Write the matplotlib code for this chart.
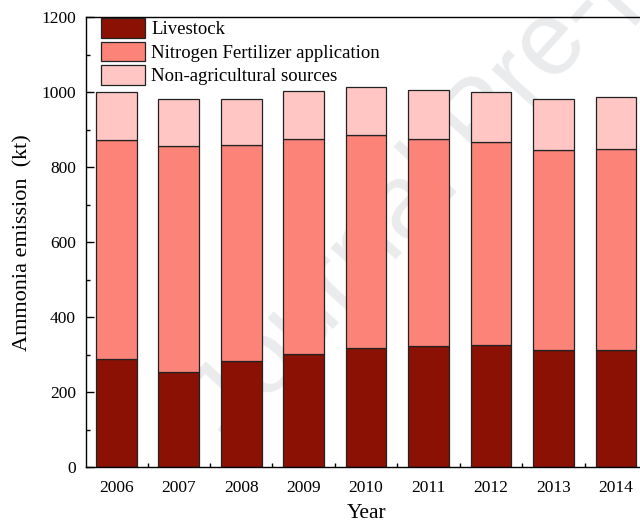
import numpy as np
import matplotlib
matplotlib.use("Agg")
import matplotlib.pyplot as plt
from matplotlib.ticker import MultipleLocator

# Ammonia emission by source (kt)
years = ["2006", "2007", "2008", "2009", "2010", "2011", "2012", "2013", "2014"]
livestock = [288, 254, 284, 302, 318, 323, 326, 314, 313]
nitrogen = [585, 601, 574, 572, 568, 551, 540, 532, 535]
non_agri = [128, 126, 124, 128, 127, 131, 134, 136, 138]

plt.rcParams['font.family'] = ['Liberation Serif', 'DejaVu Serif']

fig = plt.figure(figsize=(6.4, 5.29), dpi=100)
ax = fig.add_axes([0.134, 0.1163, 0.877, 0.8516])
ax.patch.set_facecolor('none')

x = np.arange(len(years))
w = 0.65
edge = dict(edgecolor='#222222', linewidth=0.9, zorder=2)

ax.bar(x, livestock, w, color='#8b1104', label='Livestock', **edge)
ax.bar(x, nitrogen, w, bottom=livestock, color='#fc8378',
       label='Nitrogen Fertilizer application', **edge)
bottom2 = np.array(livestock) + np.array(nitrogen)
ax.bar(x, non_agri, w, bottom=bottom2, color='#ffc6c4',
       label='Non-agricultural sources', **edge)

# faint diagonal watermark behind the bars
ax.text(0.755, 0.77, "Journal Pre-proof", transform=fig.transFigure,
        rotation=48, fontsize=76, color='#eaebed', family='Liberation Sans',
        ha='center', va='center', zorder=0.5, clip_on=False)

ax.set_xlim(-0.49, 8.5)
ax.set_ylim(0, 1200)
ax.set_xticks(x)
ax.set_xticklabels(years)
ax.set_xticks(x[:-1] + 0.5, minor=True)
ax.yaxis.set_major_locator(MultipleLocator(200))
ax.yaxis.set_minor_locator(MultipleLocator(100))

ax.tick_params(axis='both', which='major', direction='in', length=6,
               width=1.0, labelsize=12.5)
ax.tick_params(axis='both', which='minor', direction='in', length=3, width=1.0)
ax.tick_params(axis='x', which='both', pad=9)
ax.tick_params(axis='y', which='both', pad=7)
for s in ax.spines.values():
    s.set_linewidth(1.0)

ax.set_xlabel("Year", fontsize=15.5, labelpad=6)
ax.set_ylabel("Ammonia emission  (kt)", fontsize=16, labelpad=6)

leg = ax.legend(loc='upper left', bbox_to_anchor=(0.028, 0.998), frameon=False,
                fontsize=13.5, handlelength=2.3, handleheight=1.26,
                handletextpad=0.36, labelspacing=0.18, borderaxespad=0,
                borderpad=0)
leg.set_zorder(3)

fig.savefig("out.png", dpi=100)
